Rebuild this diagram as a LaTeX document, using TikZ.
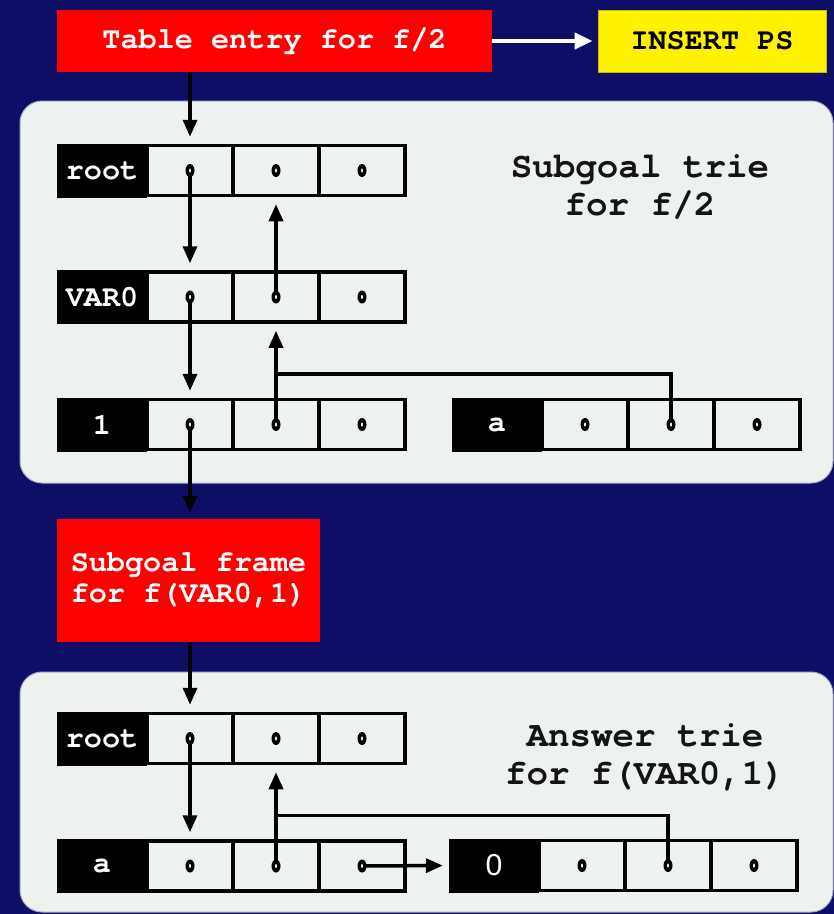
\documentclass[tikz,border=0pt]{standalone}
\usepackage{fontspec}
\setmonofont{TeX Gyre Cursor}
\setsansfont{Liberation Sans}
\usetikzlibrary{arrows.meta,calc}

\definecolor{navy}{HTML}{0F0E66}
\definecolor{panel}{HTML}{EEF2EE}
\definecolor{edge}{HTML}{AAAACC}

\newcommand\cellfont{\fontsize{30.3}{30.5}\selectfont\ttfamily\bfseries}
\newcommand\titlefont{\fontsize{36}{38}\selectfont\ttfamily\bfseries}

\tikzset{
  lbl/.style={fill=black, text=white, minimum width=90bp, minimum height=54bp,
    inner sep=0pt, font=\cellfont},
  cell/.style={draw=black, line width=3.5bp, fill=panel, minimum width=86bp,
    minimum height=50bp, inner sep=0pt},
  ptr/.style={fill=black},
  hole/.style={fill=panel},
  link/.style={line width=3.5bp, ->, shorten >=7bp},
  redbox/.style={fill=red, text=white, inner sep=0pt, font=\cellfont},
  bgpanel/.style={fill=panel, draw=edge, line width=1bp, rounded corners=22bp},
}

% one trie node: name, left x, centre y, label
\newcommand\trierow[4]{%
  \node[lbl] (#1) at (#2+45,#3) {#4};
  \node[cell] (#1-1) at (#2+133,#3) {};
  \node[cell] (#1-2) at (#2+219,#3) {};
  \node[cell] (#1-3) at (#2+305,#3) {};
}

\begin{document}
\begin{tikzpicture}[x=1bp, y=-1bp, >={Triangle[width=14bp,length=17bp]}]
  \fill[navy] (0,0) rectangle (834,914);
  \useasboundingbox (0,0) rectangle (834,914);

  % Panels
  \path[bgpanel] (20,101) rectangle (833,483);
  \path[bgpanel] (20,672) rectangle (833,912);

  % Top boxes
  \node[redbox, minimum width=435bp, minimum height=62bp] (te) at (274.5,41) {Table entry for f/2};
  \node[fill=yellow, draw={rgb,255:red,190;green,190;blue,0}, line width=0.8bp,
    minimum width=228bp, minimum height=62bp, inner sep=0pt, font=\cellfont] (ps) at (712,41) {INSERT PS};
  \draw[white, line width=4bp, -{Triangle[width=16bp,length=18bp]}, shorten >=5bp] (te.east) -- (ps.west);

  % Subgoal trie
  \trierow{r1}{57}{170.5}{root}
  \trierow{v}{57}{297}{VAR0}
  \trierow{o}{57}{424.5}{1}
  \trierow{s}{452}{424.5}{a}
  \node[font=\titlefont, align=center, text={rgb,255:red,20;green,20;blue,20}] (st) at (640,187) {Subgoal trie\\for f/2};

  % Subgoal frame
  \node[redbox, minimum width=263bp, minimum height=123bp, align=left] (fr) at (188.5,580.5) {Subgoal frame\\for f(VAR0,1)};

  % Answer trie
  \trierow{r2}{57}{738.5}{root}
  \trierow{a2}{57}{866}{a}
  \trierow{z}{449}{865.5}{\sffamily\mdseries 0}
  \node[font=\titlefont, align=center, text={rgb,255:red,20;green,20;blue,20}] (at) at (645,757) {Answer trie\\for f(VAR0,1)};

  % Links
  \coordinate (j1) at ($(o-2.center)!0.5!(v-2.south)$);
  \coordinate (j2) at ($(a2-2.center)!0.5!(r2-2.south)$);
  \draw[link] (te.south -| r1-1) -- (r1-1.north);
  \draw[link] (r1-1.center) -- (v-1.north);
  \draw[link] (v-2.center) -- (r1-2.south);
  \draw[link] (v-1.center) -- (o-1.north);
  \draw[link] (o-2.center) -- (v-2.south);
  \draw[line width=3.5bp] (s-2.center) |- (j1);
  \draw[link, shorten >=6bp] (o-1.center) -- (fr.north -| o-1);
  \draw[link] (fr.south -| r2-1) -- (r2-1.north);
  \draw[link] (r2-1.center) -- (a2-1.north);
  \draw[link] (a2-2.center) -- (r2-2.south);
  \draw[line width=3.5bp] (z-2.center) |- (j2);
  \draw[link, shorten >=6bp] (a2-3.center) -- (z.west);

  % Pointer dots
  \foreach \r in {r1,v,o,s,r2,a2,z}
    \foreach \i in {1,2,3} {
      \path[ptr] (\r-\i.center) ellipse [x radius=4.5bp, y radius=6.5bp];
      \path[hole] (\r-\i.center) ellipse [x radius=1bp, y radius=2bp];
    }
\end{tikzpicture}
\end{document}
